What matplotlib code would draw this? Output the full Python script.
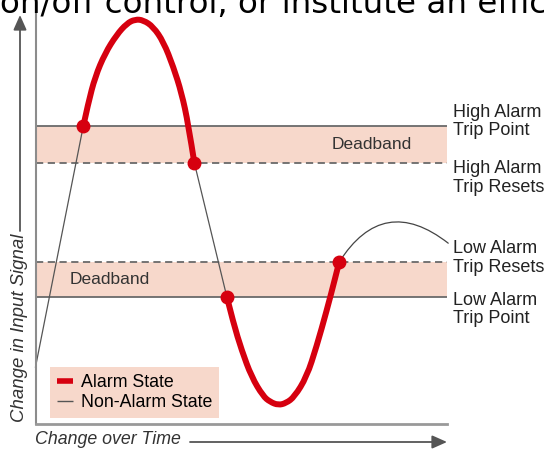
import matplotlib
matplotlib.use("Agg")
import matplotlib.pyplot as plt
from matplotlib.lines import Line2D
from matplotlib.path import Path
from matplotlib.patches import PathPatch

plt.rcParams['font.family'] = ['Liberation Sans', 'DejaVu Sans']

# thresholds (signal units, 0-100)
high_trip = 72.6
high_reset = 63.7
low_reset = 39.5
low_trip = 31.0

# signal: (time, signal)
rise_t = [0.0, 11.6]
rise_s = [13.9, 72.6]

peak_t = [11.6, 12.8, 14.5, 16.9, 19.7, 22.2, 24.2, 26.2, 28.6, 31.1, 33.5, 35.5, 37.1, 38.6]
peak_s = [72.6, 78.2, 84.7, 90.4, 94.9, 97.7, 98.7, 98.5, 96.9, 93.2, 87.1, 80.7, 73.3, 63.7]

fall_t = [38.6, 46.5]
fall_s = [63.7, 31.0]

trough_t = [46.5, 48.1, 50.1, 52.5, 55.3, 57.0, 59.0, 60.9, 62.9, 65.9, 68.3, 70.8, 72.8, 73.8]
trough_s = [31.0, 24.6, 18.0, 11.5, 6.8, 5.4, 4.6, 5.1, 6.6, 11.5, 18.9, 27.8, 35.5, 39.5]

# points where the alarm switches state
switch_t = [11.6, 38.6, 46.5, 73.8]
switch_s = [high_trip, high_reset, low_trip, low_reset]

red = '#d6000f'
pink = '#f7d8cb'
gray = '#555555'


def smooth_path(xs, ys):
    # quadratic curve through the midpoints, read points act as control points
    pts = list(zip(xs, ys))
    verts = [pts[0]]
    codes = [Path.MOVETO]
    for i in range(1, len(pts) - 2):
        mid = ((pts[i][0] + pts[i + 1][0]) / 2, (pts[i][1] + pts[i + 1][1]) / 2)
        verts += [pts[i], mid]
        codes += [Path.CURVE3, Path.CURVE3]
    verts += [pts[-2], pts[-1]]
    codes += [Path.CURVE3, Path.CURVE3]
    return Path(verts, codes)


fig = plt.figure(figsize=(5.44, 4.5), dpi=100)
ax = fig.add_axes([35.5 / 544, 26 / 450, 411.5 / 544, 410 / 450])
ax.set_xlim(0, 100)
ax.set_ylim(0, 100)

ax.axhspan(high_reset, high_trip, color=pink, lw=0, zorder=0)
ax.axhspan(low_trip, low_reset, color=pink, lw=0, zorder=0)
ax.axhline(high_trip, color='#6a6a6a', lw=1.3, zorder=1)
ax.axhline(low_trip, color='#6a6a6a', lw=1.3, zorder=1)
ax.axhline(high_reset, color='#6a6a6a', lw=1.3, dashes=(4, 2.5), zorder=1)
ax.axhline(low_reset, color='#6a6a6a', lw=1.3, dashes=(4, 2.5), zorder=1)

ax.plot(rise_t, rise_s, color=gray, lw=0.9, zorder=2, clip_on=False)
ax.plot(fall_t, fall_s, color=gray, lw=0.9, zorder=2, clip_on=False)
for xs, ys in [(peak_t, peak_s), (trough_t, trough_s)]:
    ax.add_patch(PathPatch(smooth_path(xs, ys), facecolor='none', edgecolor=red,
                           lw=4.3, capstyle='round', joinstyle='round', zorder=3,
                           clip_on=False))
ax.plot(switch_t, switch_s, 'o', color=red, ms=9, zorder=4, clip_on=False)

ax.annotate('', xy=(switch_t[3], switch_s[3]), xytext=(100.3, 44.1),
            arrowprops=dict(arrowstyle='-', color='#444444', lw=0.9,
                            connectionstyle='arc3,rad=0.55', shrinkA=0, shrinkB=0),
            annotation_clip=False)

ax.text(81.8, (high_trip + high_reset) / 2, 'Deadband', ha='center', va='center',
        fontsize=12.5, color='#333333')
ax.text(18.1, (low_trip + low_reset) / 2, 'Deadband', ha='center', va='center',
        fontsize=12.5, color='#333333')

labels = ['High Alarm\nTrip Point', 'High Alarm\nTrip Resets',
          'Low Alarm\nTrip Resets', 'Low Alarm\nTrip Point']
label_y = [73.8, 60.0, 40.5, 28.0]
for lab, y in zip(labels, label_y):
    ax.text(101.4, y, lab, ha='left', va='center', fontsize=13, color='#222222',
            linespacing=1.1, clip_on=False)

for side in ['top', 'right']:
    ax.spines[side].set_visible(False)
ax.spines['left'].set_color('#8c8c8c')
ax.spines['left'].set_linewidth(1.5)
ax.spines['bottom'].set_color('#999999')
ax.spines['bottom'].set_linewidth(2)
ax.set_xticks([])
ax.set_yticks([])

handles = [Line2D([], [], color=red, lw=4, solid_capstyle='butt'),
           Line2D([], [], color=gray, lw=1, solid_capstyle='butt')]
leg = ax.legend(handles, ['Alarm State', 'Non-Alarm State'], loc='lower left',
                bbox_to_anchor=(0.035, 0.015), borderaxespad=0, borderpad=0.4,
                handlelength=0.9, handletextpad=0.45, labelspacing=0.15,
                fontsize=12.8, frameon=True, fancybox=False)
leg.get_frame().set_facecolor(pink)
leg.get_frame().set_edgecolor('none')
leg.get_frame().set_alpha(1)

# axis captions with arrows
fig.text(35 / 544, 1 - 440 / 450, 'Change over Time', ha='left', va='center',
         fontsize=12.8, style='italic', color='#333333')
fig.text(20 / 544, 1 - 328 / 450, 'Change in Input Signal', ha='center', va='center',
         rotation=90, fontsize=13.4, style='italic', color='#333333')
arrow = dict(arrowstyle='-|>,head_length=0.9,head_width=0.4', color='#555555',
             lw=1.3, mutation_scale=10, shrinkA=0, shrinkB=0)
ax.annotate('', xy=(447 / 544, 1 - 442 / 450), xytext=(190 / 544, 1 - 442 / 450),
            xycoords='figure fraction', arrowprops=arrow)
ax.annotate('', xy=(20 / 544, 1 - 15 / 450), xytext=(20 / 544, 1 - 231 / 450),
            xycoords='figure fraction', arrowprops=arrow)

# clipped line of body text above the figure
fig.text(0.0, 1 - 13 / 450, 'on/off control, or institute an effic', ha='left',
         va='baseline', fontsize=23.4, family='DejaVu Sans', color='black')

fig.savefig('out.png', dpi=100)
